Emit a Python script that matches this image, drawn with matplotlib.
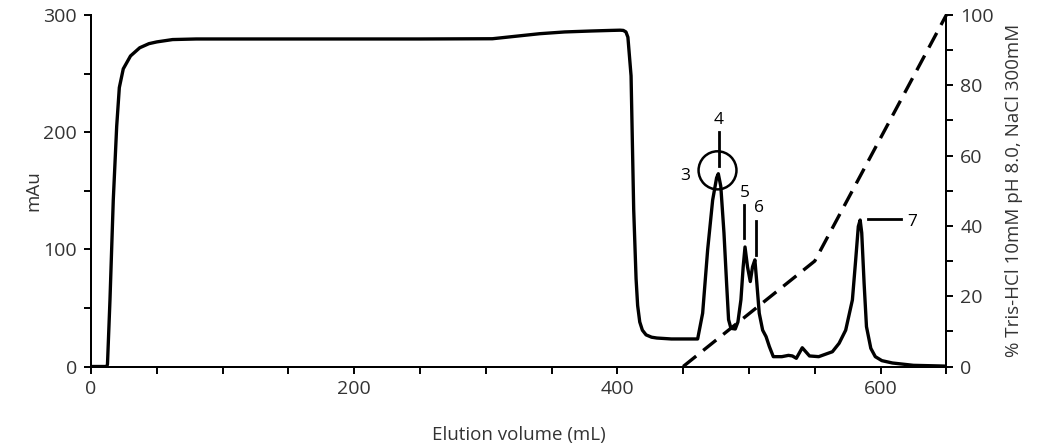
import numpy as np
import matplotlib
matplotlib.use("Agg")
from matplotlib import pyplot as plt
from matplotlib.patches import Ellipse

plt.rcParams['font.family'] = ['Open Sans', 'DejaVu Sans']

# UV absorbance trace (mAu)
volume_ml = [0, 12, 12.5, 14.4, 16.9, 19.5, 21.5, 24.5, 30, 37, 44, 50, 62, 80, 150, 250, 305,
             320, 341, 360, 380, 395, 402, 404.5, 406.5, 408, 410.4, 412.4, 414.2, 415.4, 417,
             419, 421.8, 426, 430, 441, 461,
             464.8, 468.6, 472.4, 475.4, 476.7, 478.6, 481, 483, 484.5, 486.3, 489.6, 491.6,
             493.9, 495.6, 497, 498.9, 501, 502.7, 504.5, 506, 507.8, 510.4, 513, 515.5, 518.5,
             525, 530, 533, 536, 540.5, 546, 553, 563.4, 568.5, 573.5, 578.6, 581.1, 583.1,
             584.5, 585.7, 587.5, 589.3, 592.6, 596, 601, 609, 625, 644, 650]
absorbance_mau = [0, 0, 2, 57, 142, 205, 238, 254, 265, 272, 275.5, 277, 279, 279.5, 279.5, 279.5, 279.7,
                  281.5, 284, 285.5, 286.3, 286.8, 287, 286.8, 285.5, 281, 248, 134, 75, 52, 38,
                  31, 27, 25, 24.3, 23.5, 23.5,
                  45.5, 99.6, 142, 161, 164.5, 153.7, 114, 71, 40, 32.6, 32, 38,
                  57, 85, 102, 85, 72.5, 85, 91, 71, 45.5, 31, 25.5, 17, 8.4,
                  8.4, 9.5, 9, 7, 16, 9, 8.4, 12.6, 19.8, 31, 56.8, 91, 119.5,
                  125, 114, 71, 34, 15.5, 8.4, 5, 3, 1, 0.5, 0.3]

# salt gradient (% buffer B)
gradient_ml = [450, 550, 650]
gradient_pct = [0, 30, 100]

# fraction labels: (text, x, y) and marker lines
peak_labels = [("3", 451.6, 162.8), ("4", 476.9, 210.7), ("5", 496.6, 148),
               ("6", 507.8, 135.2), ("7", 624.1, 122.9)]
peak_lines = [([476.9, 476.9], [199.8, 171.4]),
              ([495.9, 495.9], [137.8, 109.6]),
              ([505.3, 505.3], [123.8, 95.3]),
              ([590.7, 615.8], [125.8, 125.8])]

fig = plt.figure(figsize=(10.38, 4.45), dpi=100)
ax = fig.add_axes([0.0877, 0.1764, 0.8240, 0.7900])
ax2 = ax.twinx()

ax.plot(volume_ml, absorbance_mau, color="black", lw=2.4, solid_joinstyle="round")
ax2.plot(gradient_ml, gradient_pct, color="black", lw=2.4, dashes=(5, 2.7),
         clip_on=False)

for txt, x, y in peak_labels:
    ax.text(x, y, txt, ha="center", va="center", fontsize=12.5)
for xs, ys in peak_lines:
    ax.plot(xs, ys, color="black", lw=2)
ax.add_patch(Ellipse((476.1, 167.4), 28.8, 32.5, fill=False, ec="black", lw=1.8))

ax.set_xlim(0, 650)
ax.set_ylim(0, 300)
ax2.set_ylim(0, 100)

ax.set_xticks([0, 200, 400, 600])
ax.set_xticks(np.arange(0, 651, 50), minor=True)
ax.set_yticks([0, 100, 200, 300])
ax.set_yticks(np.arange(0, 301, 50), minor=True)
ax2.set_yticks(np.arange(0, 101, 20))
ax2.set_yticks(np.arange(0, 101, 10), minor=True)

for a in (ax, ax2):
    a.spines["top"].set_visible(False)
    for s in a.spines.values():
        s.set_linewidth(1.4)
    a.tick_params(which="both", direction="out", width=1.4, labelsize=14, colors="black")
    a.tick_params(which="major", length=5, pad=5)
    a.tick_params(which="minor", length=5)
    for lbl in a.get_xticklabels() + a.get_yticklabels():
        lbl.set_color("#333333")

ax.set_xlabel("Elution volume (mL)", fontsize=13.5, color="#333333", labelpad=20)
ax.set_ylabel("mAu", fontsize=13.5, color="#333333", labelpad=1)
ax2.set_ylabel("% Tris-HCl 10mM pH 8.0, NaCl 300mM", fontsize=13.5, color="#333333", labelpad=8)

fig.savefig("out.png", dpi=100)
